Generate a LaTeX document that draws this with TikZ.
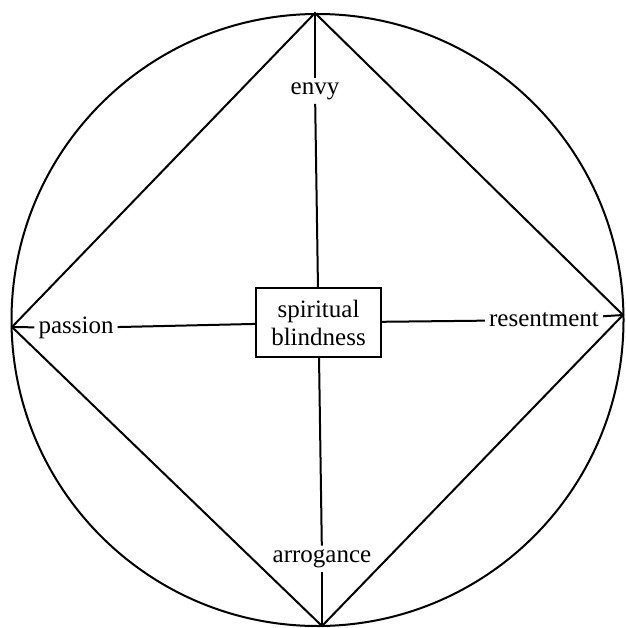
\documentclass[tikz,border=0pt]{standalone}
\usepackage{fontspec}
\setmainfont{Liberation Serif}
\begin{document}
\begin{tikzpicture}[x=1pt,y=-1pt,
  ln/.style={line width=2pt, black},
  lbl/.style={font=\fontsize{25}{28}\selectfont, inner sep=4pt},
  boxn/.style={draw, line width=2pt, minimum width=125pt, minimum height=69pt,
    align=center, font=\fontsize{25}{28}\selectfont, inner sep=2pt}]
\useasboundingbox (0,0) rectangle (625,628);
\coordinate (c) at (317.5,320);
\coordinate (top) at (315,13);
\coordinate (left) at (12,327);
\coordinate (right) at (623,315);
\coordinate (bot) at (322,626);
\draw[ln] (c) circle[radius=306];
\draw[ln] (top) -- (right) -- (bot) -- (left) -- cycle;
\node[boxn] (box) at (318.5,322.5) {spiritual\\blindness};
\node[lbl] (envy) at (315,91) {envy};
\node[lbl] (passion) at (76,328) {passion};
\node[lbl] (resent) at (544,320) {resentment};
\node[lbl] (arro) at (322,559) {arrogance};
\draw[ln] (top) -- (envy);
\draw[ln] (envy) -- (box);
\draw[ln] (left) -- (passion);
\draw[ln] (passion) -- (box);
\draw[ln] (right) -- (resent);
\draw[ln] (resent) -- (box);
\draw[ln] (bot) -- (arro);
\draw[ln] (arro) -- (box);
\end{tikzpicture}
\end{document}
